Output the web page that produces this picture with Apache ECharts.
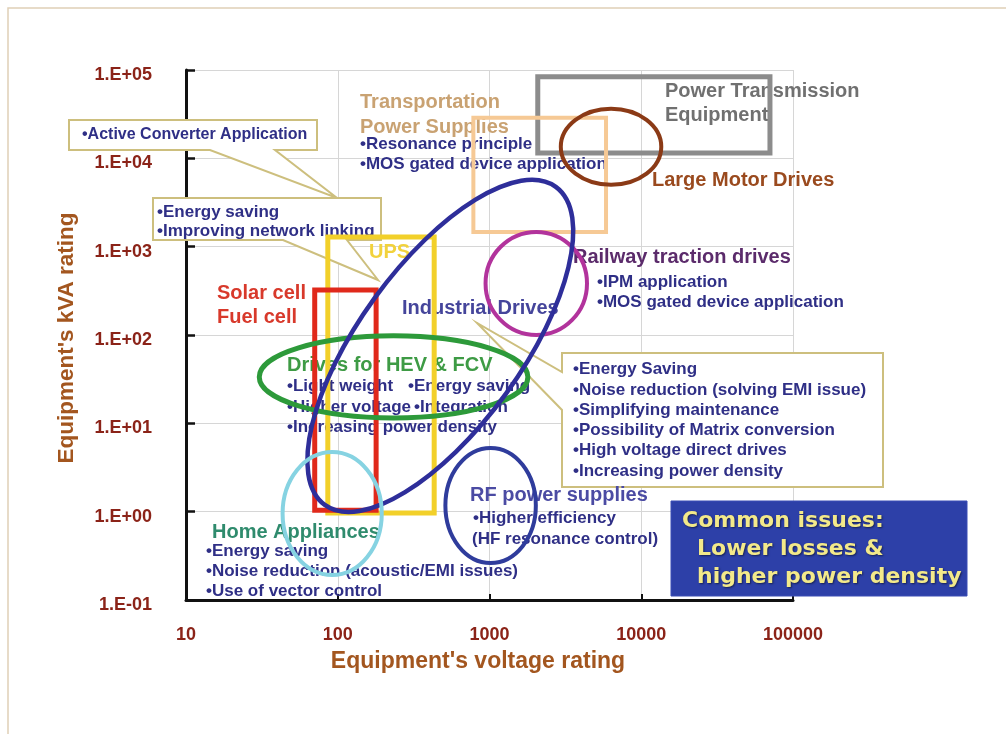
<!DOCTYPE html>
<html><head><meta charset="utf-8">
<script src="https://cdn.jsdelivr.net/npm/echarts@6/dist/echarts.min.js"></script>
<style>html,body{margin:0;padding:0;background:#fff}#c{width:1006px;height:734px}</style>
</head><body><div id="c"></div>
<script>
// ---- tick labels ----
const xTickLabels = ['10', '100', '1000', '10000', '100000'];
const yTickLabels = ['1.E-01', '1.E+00', '1.E+01', '1.E+02', '1.E+03', '1.E+04', '1.E+05'];

// ---- rectangular regions: [voltMin, voltMax, kvaMin, kvaMax] ----
const powerTransmission = [2080, 70500, 11500, 83700];
const transportation = [783, 5860, 1470, 28800];
const ups = [86, 432, 0.966, 1290];
const solarFuel = [70.5, 179, 1.04, 324];

// ---- elliptical regions (axis aligned): [voltMin, voltMax, kvaMin, kvaMax] ----
const largeMotor = [2950, 13550, 5010, 36400];
const railway = [942, 4390, 100, 1470];
const hevFcv = [30.4, 1790, 11.5, 97.8];
const homeAppliances = [43.3, 195, 0.192, 4.74];
const rfSupplies = [512, 2020, 0.262, 5.26];

// ---- tilted ellipse: [centerVolt, centerKva, majorEndVolt, majorEndKva, minorEndVolt, minorEndKva] ----
const industrialDrives = [474, 75.3, 2735, 4753, 174.5, 260];

const FONT = '"Liberation Sans", Arial, Helvetica, sans-serif';

function rectSeries(name, d, color, w) {
  return {
    type: 'custom', name, coordinateSystem: 'cartesian2d', silent: true, z: 3,
    data: [d], encode: { x: [0, 1], y: [2, 3] },
    renderItem: (p, api) => {
      const a = api.coord([api.value(0), api.value(3)]);
      const b = api.coord([api.value(1), api.value(2)]);
      return { type: 'rect', shape: { x: a[0], y: a[1], width: b[0] - a[0], height: b[1] - a[1] },
        style: { fill: 'transparent', stroke: color, lineWidth: w } };
    }
  };
}
function ellipseSeries(name, d, color, w) {
  return {
    type: 'custom', name, coordinateSystem: 'cartesian2d', silent: true, z: 3,
    data: [d], encode: { x: [0, 1], y: [2, 3] },
    renderItem: (p, api) => {
      const a = api.coord([api.value(0), api.value(3)]);
      const b = api.coord([api.value(1), api.value(2)]);
      return { type: 'ellipse', shape: { cx: (a[0] + b[0]) / 2, cy: (a[1] + b[1]) / 2, rx: (b[0] - a[0]) / 2, ry: (b[1] - a[1]) / 2 },
        style: { fill: 'transparent', stroke: color, lineWidth: w } };
    }
  };
}
function tiltedEllipseSeries(name, d, color, w) {
  return {
    type: 'custom', name, coordinateSystem: 'cartesian2d', silent: true, z: 3,
    data: [d], encode: { x: [0, 2, 4], y: [1, 3, 5] },
    renderItem: (p, api) => {
      const c = api.coord([api.value(0), api.value(1)]);
      const m = api.coord([api.value(2), api.value(3)]);
      const n = api.coord([api.value(4), api.value(5)]);
      const rx = Math.hypot(m[0] - c[0], m[1] - c[1]);
      const ry = Math.hypot(n[0] - c[0], n[1] - c[1]);
      const rot = Math.atan2(-(m[1] - c[1]), m[0] - c[0]);
      return { type: 'ellipse', x: c[0], y: c[1], rotation: rot, shape: { cx: 0, cy: 0, rx, ry },
        style: { fill: 'transparent', stroke: color, lineWidth: w } };
    }
  };
}

function txt(text, x, y, size, color, extra) {
  return Object.assign({ type: 'text', z: 1, silent: true, style: {
    text, x, y, font: `bold ${size}px ${FONT}`, fill: color,
    align: 'left', textAlign: 'left', verticalAlign: 'middle', textVerticalAlign: 'middle' } }, extra || {});
}
function box(points) {
  return { type: 'polygon', z: 1, silent: true, shape: { points },
    style: { fill: '#ffffff', stroke: '#cdbf7e', lineWidth: 2 } };
}
function common(text, x, y) {
  return { type: 'text', z: 1, silent: true, style: { text, x, y, font: `bold 22px "DejaVu Sans", sans-serif`,
    fill: '#f3e98a', align: 'left', textAlign: 'left', verticalAlign: 'middle', textVerticalAlign: 'middle',
    textShadowColor: 'rgba(0,0,0,0.5)', textShadowBlur: 2, textShadowOffsetX: 1, textShadowOffsetY: 1 } };
}

const NAVY = '#2f2f86';
const graphics = [
  { type: 'rect', z: 0, silent: true, shape: { x: 8, y: 8, width: 1010, height: 740 }, style: { fill: 'transparent', stroke: '#e0d0b6', lineWidth: 1.5 } },
  box([[69, 120], [317, 120], [317, 150], [275, 150], [337, 198], [210, 150], [69, 150]]),
  box([[153, 198], [381, 198], [381, 240], [347, 240], [378, 280], [283, 240], [153, 240]]),
  box([[562, 353], [883, 353], [883, 487], [562, 487], [562, 410], [477, 323], [562, 372]]),
  { type: 'rect', z: 1, silent: true, shape: { x: 671, y: 501, width: 296, height: 95 }, style: { fill: '#2d40a8', stroke: '#3a4db5', lineWidth: 1 } },

  txt('Transportation', 360, 102, 20, '#c9a272'),
  txt('Power Supplies', 360, 127, 20, '#c9a272'),
  txt('•Resonance principle', 360, 144, 17, NAVY),
  txt('•MOS gated device application', 360, 164, 17, NAVY),
  txt('Power Transmission', 665, 91, 20, '#707070'),
  txt('Equipment', 665, 115, 20, '#707070'),
  txt('Large Motor Drives', 652, 180, 20, '#9a4a1e'),
  txt('•Active Converter Application', 82, 135, 16, NAVY),
  txt('•Energy saving', 157, 212, 17, NAVY),
  txt('•Improving network linking', 157, 231, 17, NAVY),
  txt('UPS', 369, 252, 20, '#f2d23c'),
  txt('Railway traction drives', 573, 257, 20, '#5b2b6b'),
  txt('•IPM application', 597, 282, 17, NAVY),
  txt('•MOS gated device application', 597, 302, 17, NAVY),
  txt('Solar cell', 217, 293, 20, '#d8392b'),
  txt('Fuel cell', 217, 317, 20, '#d8392b'),
  txt('Industrial Drives', 402, 308, 20, '#45459b'),
  txt('Drives for HEV & FCV', 287, 365, 20, '#3e9b45'),
  txt('•Light weight', 287, 386, 17, NAVY),
  txt('•Energy saving', 408, 386, 17, NAVY),
  txt('•Higher voltage', 287, 407, 17, NAVY),
  txt('•Integration', 414, 407, 17, NAVY),
  txt('•Increasing power density', 287, 427, 17, NAVY),
  txt('•Energy Saving', 573, 369, 17, NAVY),
  txt('•Noise reduction (solving EMI issue)', 573, 390, 17, NAVY),
  txt('•Simplifying maintenance', 573, 410, 17, NAVY),
  txt('•Possibility of Matrix conversion', 573, 430, 17, NAVY),
  txt('•High voltage direct drives', 573, 450, 17, NAVY),
  txt('•Increasing power density', 573, 471, 17, NAVY),
  txt('Home Appliances', 212, 532, 20, '#2f8b6d'),
  txt('•Energy saving', 206, 551, 17, NAVY),
  txt('•Noise reduction (acoustic/EMI issues)', 206, 571, 17, NAVY),
  txt('•Use of vector control', 206, 591, 17, NAVY),
  txt('RF power supplies', 470, 495, 20, '#4b4ba3'),
  txt('•Higher efficiency', 473, 518, 17, NAVY),
  txt('(HF resonance control)', 472, 539, 17, NAVY),
  common('Common issues:', 682, 521),
  common('Lower losses &', 697, 549),
  common('higher power density', 697, 577),

  { type: 'text', z: 1, silent: true, style: { text: "Equipment's voltage rating", x: 478, y: 662, font: `bold 23px ${FONT}`, fill: '#a3561f', align: 'center', textAlign: 'center', verticalAlign: 'middle', textVerticalAlign: 'middle' } },
  { type: 'text', z: 1, silent: true, x: 67, y: 338, rotation: Math.PI / 2, style: { text: "Equipment's kVA rating", x: 0, y: 0, font: `bold 22.5px ${FONT}`, fill: '#a3561f', align: 'center', textAlign: 'center', verticalAlign: 'middle', textVerticalAlign: 'middle' } }
];

const chart = echarts.init(document.getElementById('c'), null, { renderer: 'canvas' });
chart.setOption({
  animation: false,
  backgroundColor: '#ffffff',
  grid: { left: 186, right: 213, top: 70, bottom: 134, containLabel: false, outerBoundsMode: 'none' },
  xAxis: {
    type: 'log', logBase: 10, min: 10, max: 100000, z: 0,
    axisLine: { show: true, lineStyle: { color: '#111', width: 3 } },
    axisTick: { show: true, inside: true, length: 6, lineStyle: { color: '#111', width: 2 } },
    minorTick: { show: false },
    splitLine: { show: true, lineStyle: { color: '#d6d6d6', width: 1 } },
    axisLabel: { show: true, margin: 26, color: '#8b2318', fontSize: 18, fontWeight: 'bold', fontFamily: FONT,
      showMinLabel: true, showMaxLabel: true,
      formatter: v => xTickLabels[Math.round(Math.log10(v)) - 1] }
  },
  yAxis: {
    type: 'log', logBase: 10, min: 0.1, max: 100000, z: 0,
    axisLine: { show: true, lineStyle: { color: '#111', width: 3 } },
    axisTick: { show: true, inside: true, length: 9, lineStyle: { color: '#111', width: 2.5 } },
    minorTick: { show: false },
    splitLine: { show: true, lineStyle: { color: '#d6d6d6', width: 1 } },
    axisLabel: { show: true, margin: 34, color: '#8b2318', fontSize: 18, fontWeight: 'bold', fontFamily: FONT,
      verticalAlign: 'top', lineHeight: 10, showMinLabel: true, showMaxLabel: true,
      formatter: v => yTickLabels[Math.round(Math.log10(v)) + 1] }
  },
  graphic: graphics,
  series: [
    rectSeries('Power Transmission Equipment', powerTransmission, '#8c8c8c', 5),
    rectSeries('Transportation Power Supplies', transportation, '#f6c995', 4),
    ellipseSeries('Large Motor Drives', largeMotor, '#8b3a16', 4),
    ellipseSeries('Railway traction drives', railway, '#b2339c', 4),
    rectSeries('UPS', ups, '#f2d02a', 5),
    rectSeries('Solar cell / Fuel cell', solarFuel, '#e0291b', 5),
    ellipseSeries('Drives for HEV & FCV', hevFcv, '#2d9a3a', 5),
    tiltedEllipseSeries('Industrial Drives', industrialDrives, '#2e2e9a', 4.5),
    ellipseSeries('Home Appliances', homeAppliances, '#86d3e2', 4),
    ellipseSeries('RF power supplies', rfSupplies, '#2f3c9c', 4)
  ]
});
</script></body></html>
